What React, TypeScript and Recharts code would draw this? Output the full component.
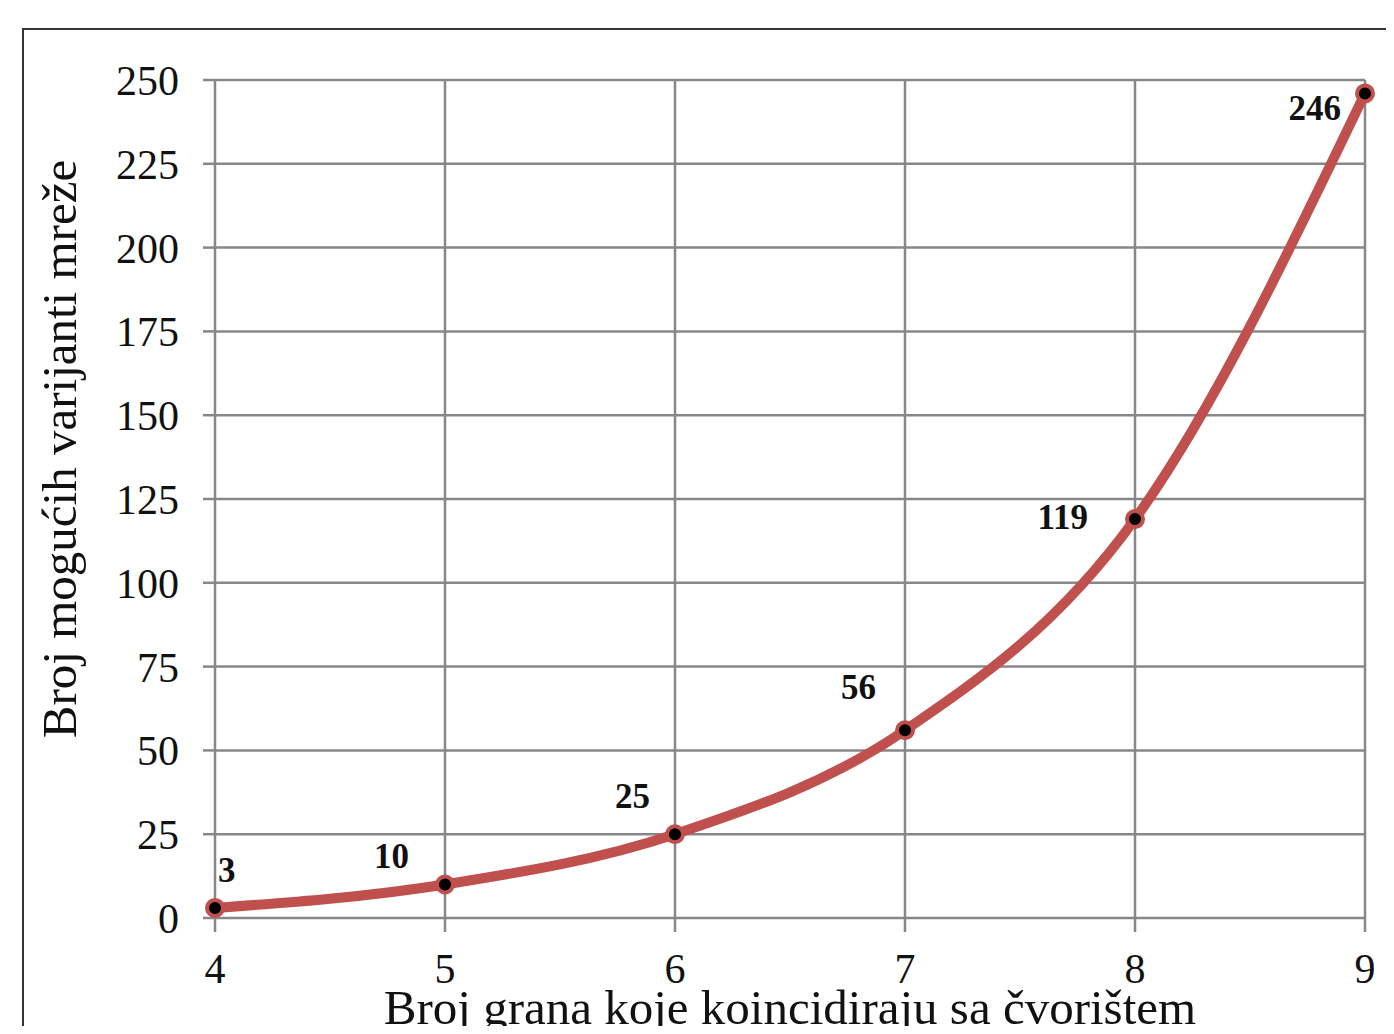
import { LineChart, Line, XAxis, YAxis, CartesianGrid, LabelList, Label } from "recharts";

const branchCounts = [4, 5, 6, 7, 8, 9];
const variantCounts = [3, 10, 25, 56, 119, 246];
const yTicks = [0, 25, 50, 75, 100, 125, 150, 175, 200, 225, 250];
const xTitle = "Broj grana koje koincidiraju sa čvorištem";
const yTitle = "Broj mogućih varijanti mreže";

const chartData = branchCounts.map((b, i) => ({ branches: b, variants: variantCounts[i] }));

// where each value label sits relative to its point (picked by eye, like Excel did it)
const labelPlacement = [
  { anchor: "start", dx: 3, dy: -37 },
  { anchor: "end", dx: -36, dy: -28 },
  { anchor: "end", dx: -25, dy: -38 },
  { anchor: "end", dx: -29, dy: -43 },
  { anchor: "end", dx: -47, dy: -2 },
  { anchor: "end", dx: -24, dy: 15 },
];

const FONT = '"Liberation Serif", "Times New Roman", serif';
const GRID = "#878787";
const RED = "#c0504d";

const ValueLabel = (props: any) => {
  const { x, y, value } = props;
  const i = props.index ?? variantCounts.indexOf(value);
  const p = labelPlacement[i] || { anchor: "end", dx: -30, dy: -30 };
  return (
    <text
      x={x + p.dx}
      y={y + p.dy}
      textAnchor={p.anchor}
      dominantBaseline="central"
      fontFamily={FONT}
      fontWeight="bold"
      fontSize={35}
      fill="#111"
    >
      {value}
    </text>
  );
};

const XTitle = (props: any) => {
  const vb = props.viewBox || { x: 215, width: 1150 };
  return (
    <text x={vb.x + vb.width / 2} y={1024} textAnchor="middle" fontFamily={FONT} fontSize={49} fill="#111">
      {xTitle}
    </text>
  );
};

const YTitle = () => (
  <text
    x={76}
    y={449}
    transform="rotate(-90 76 449)"
    textAnchor="middle"
    fontFamily={FONT}
    fontSize={49}
    fill="#111"
  >
    {yTitle}
  </text>
);

export default function App() {
  return (
    <div style={{ position: "relative", width: 1394, height: 1034, overflow: "hidden", background: "#fff", margin: -8 }}>
      <div
        style={{
          position: "absolute",
          left: 22,
          top: 28,
          width: 2000,
          height: 2000,
          borderLeft: "2px solid #333",
          borderTop: "2px solid #333",
        }}
      />
      <div style={{ position: "absolute", left: 0, top: 0 }}>
        <LineChart width={1394} height={1034} data={chartData} margin={{ top: 80, right: 29, left: 0, bottom: 0 }}>
          <CartesianGrid stroke={GRID} strokeWidth={2.5} />
          <XAxis
            dataKey="branches"
            type="number"
            domain={[4, 9]}
            ticks={branchCounts}
            height={116}
            axisLine={false}
            tickLine={{ stroke: GRID, strokeWidth: 2.5 }}
            tickSize={14}
            tickMargin={21}
            tick={{ fontFamily: FONT, fontSize: 42, fill: "#111" }}
            interval={0}
          >
            <Label content={<XTitle />} />
          </XAxis>
          <YAxis
            type="number"
            domain={[0, 250]}
            ticks={yTicks}
            width={215}
            axisLine={false}
            tickLine={{ stroke: GRID, strokeWidth: 2.5 }}
            tickSize={12}
            tickMargin={24}
            tick={{ fontFamily: FONT, fontSize: 42, fill: "#111" }}
            interval={0}
          >
            <Label content={<YTitle />} />
          </YAxis>
          <Line
            type="monotone"
            dataKey="variants"
            stroke={RED}
            strokeWidth={10}
            dot={{ r: 8, fill: "#000", stroke: RED, strokeWidth: 4 }}
            isAnimationActive={false}
          >
            <LabelList dataKey="variants" content={<ValueLabel />} />
          </Line>
        </LineChart>
      </div>
    </div>
  );
}
